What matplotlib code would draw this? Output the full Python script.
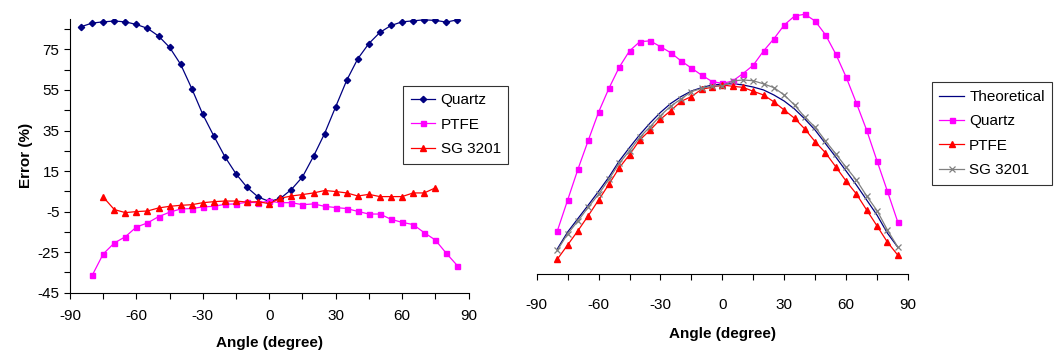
import numpy as np
import matplotlib
matplotlib.use('Agg')
import matplotlib.pyplot as plt
from matplotlib.ticker import MultipleLocator, FixedLocator

# left panel: error vs angle
angle_quartz = list(range(-85, 90, 5))
err_quartz = [86.2, 88.0, 88.6, 89.0, 88.6, 87.3, 85.4, 81.6, 76.0, 67.6,
              55.7, 42.9, 32.2, 22.0, 13.6, 6.9, 2.2, 0.0, 1.5, 5.9,
              12.1, 22.3, 33.5, 46.7, 59.8, 70.4, 77.9, 83.4, 86.8, 88.6,
              89.1, 89.6, 89.3, 88.5, 89.6]

angle_ptfe = list(range(-80, 90, 5))
err_ptfe = [-36.5, -25.9, -20.5, -17.4, -12.6, -10.6, -7.5, -5.3, -3.7, -3.5,
            -2.7, -2.4, -1.4, -1.2, -0.4, -0.6, 0.1, -0.6, -0.6, -1.6,
            -1.2, -2.4, -3.0, -3.5, -4.9, -6.2, -6.2, -8.8, -10.3, -11.4,
            -15.4, -19.0, -25.6, -31.7]

angle_sg = list(range(-75, 80, 5))
err_sg = [2.2, -4.0, -5.5, -5.0, -4.7, -3.2, -2.4, -1.9, -1.6, -0.6,
          -0.1, 0.2, 0.2, -0.3, -0.1, -1.1, 1.6, 2.7, 3.4, 4.2,
          5.4, 4.9, 4.2, 2.7, 3.5, 2.4, 2.4, 2.4, 4.2, 4.2, 6.7]

# right panel: response vs angle
angle_resp = list(range(-80, 90, 5))
resp_theory = [9.5, 15.9, 21.0, 26.1, 31.3, 36.7, 42.8, 47.9, 52.8, 57.2,
               61.2, 64.6, 67.2, 69.3, 70.6, 71.6, 71.9, 72.1, 71.6, 70.8,
               69.7, 67.8, 65.5, 62.5, 58.7, 54.5, 49.4, 44.3, 39.0, 33.7,
               28.0, 22.3, 15.5, 10.2]
resp_quartz = [16.3, 28.0, 39.7, 50.6, 61.3, 70.3, 78.3, 84.5, 88.0, 88.3,
               86.1, 83.8, 80.7, 78.0, 75.3, 72.9, 72.2, 73.1, 75.9, 79.1,
               84.5, 89.1, 94.3, 97.7, 98.4, 95.8, 90.6, 83.3, 74.6, 64.7,
               54.4, 42.8, 31.4, 19.8]
resp_ptfe = [5.6, 11.0, 16.4, 22.1, 28.0, 34.0, 40.2, 45.2, 50.8, 54.5,
             58.6, 61.9, 65.4, 67.2, 70.0, 70.7, 71.6, 71.1, 70.7, 69.2,
             67.8, 65.2, 62.1, 59.0, 54.9, 50.1, 45.9, 40.6, 35.2, 30.3,
             24.2, 18.2, 12.1, 7.2]
resp_sg = [9.0, 15.2, 20.1, 25.3, 30.2, 35.9, 41.9, 46.7, 51.8, 55.8,
           60.0, 63.6, 66.3, 69.1, 70.3, 71.2, 71.2, 73.1, 73.5, 73.2,
           72.0, 70.6, 67.8, 64.0, 59.4, 55.6, 50.4, 45.5, 40.4, 35.6,
           29.5, 24.0, 16.7, 10.3]

x_ticks = [-90, -60, -30, 0, 30, 60, 90]


def style_xaxis(ax, pad, labelpad):
    ax.set_xlim(-90, 90)
    ax.xaxis.set_major_locator(FixedLocator(x_ticks))
    ax.xaxis.set_minor_locator(MultipleLocator(15))
    ax.tick_params(axis='x', which='both', direction='out', length=4,
                   width=0.8, labelsize=11, pad=pad)
    ax.set_xlabel('Angle (degree)', fontsize=11, fontweight='bold',
                  labelpad=labelpad)
    for side in ('top', 'right'):
        ax.spines[side].set_visible(False)


def add_legend(ax, fig, x, y):
    leg = ax.legend(loc='upper left', bbox_to_anchor=(x, y),
                    bbox_transform=fig.transFigure, fontsize=11,
                    frameon=True, fancybox=False, edgecolor='black',
                    handlelength=1.6, borderpad=0.5, labelspacing=0.68,
                    handletextpad=0.35, borderaxespad=0)
    leg.get_frame().set_linewidth(0.8)


def main():
    plt.rcParams['font.family'] = ['Liberation Sans', 'DejaVu Sans']
    plt.rcParams['axes.unicode_minus'] = False
    fig = plt.figure(figsize=(10.59, 3.54), dpi=100)

    ax1 = fig.add_axes([0.0661, 0.1732, 0.3763, 0.7731])
    ax1.plot(angle_quartz, err_quartz, color='#000080', lw=0.9,
             marker='D', ms=3.2, label='Quartz')
    ax1.plot(angle_ptfe, err_ptfe, color='#FF00FF', lw=0.9,
             marker='s', ms=3.6, label='PTFE')
    ax1.plot(angle_sg, err_sg, color='#FF0000', lw=0.9,
             marker='^', ms=4.5, label='SG 3201')
    style_xaxis(ax1, pad=8, labelpad=9)
    ax1.set_ylim(-45, 90)
    ax1.yaxis.set_major_locator(FixedLocator([-45, -25, -5, 15, 35, 55, 75]))
    ax1.yaxis.set_minor_locator(FixedLocator([-35, -15, 5, 25, 45, 65, 85]))
    ax1.tick_params(axis='y', which='both', direction='out', length=4,
                    width=0.8, labelsize=11)
    ax1.set_ylabel('Error (%)', fontsize=11, fontweight='bold', labelpad=3)
    add_legend(ax1, fig, 0.3808, 0.7579)

    ax2 = fig.add_axes([0.5068, 0.2260, 0.3506, 0.7458])
    ax2.plot(angle_resp, resp_theory, color='#000080', lw=0.9, label='Theoretical')
    ax2.plot(angle_resp, resp_quartz, color='#FF00FF', lw=0.9,
             marker='s', ms=3.6, label='Quartz')
    ax2.plot(angle_resp, resp_ptfe, color='#FF0000', lw=0.9,
             marker='^', ms=4.5, label='PTFE')
    ax2.plot(angle_resp, resp_sg, color='#808080', lw=0.9,
             marker='x', ms=3.8, mew=0.9, label='SG 3201')
    style_xaxis(ax2, pad=13, labelpad=11)
    ax2.set_ylim(0, 100)
    ax2.spines['left'].set_visible(False)
    ax2.set_yticks([])
    add_legend(ax2, fig, 0.8798, 0.7675)

    fig.savefig('out.png', dpi=100)


if __name__ == '__main__':
    main()
